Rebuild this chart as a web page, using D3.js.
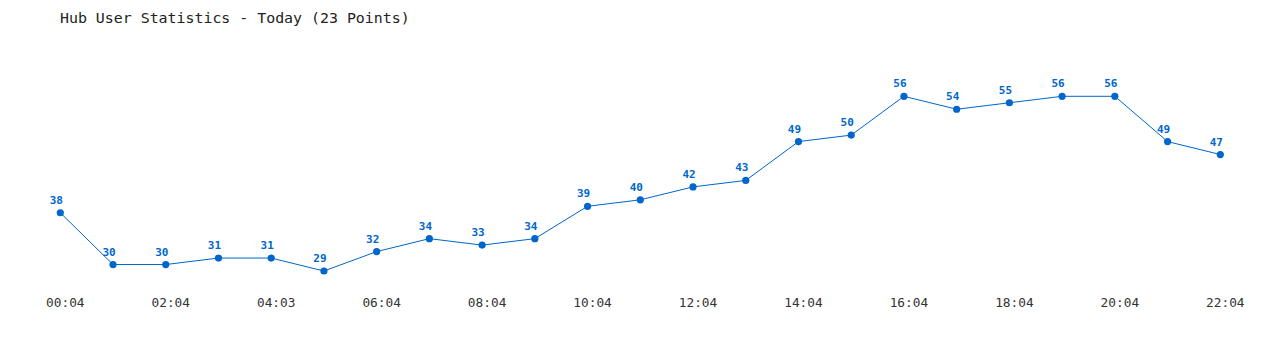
<!DOCTYPE html>
<html><head><meta charset="utf-8">
<script src="https://cdn.jsdelivr.net/npm/d3@7"></script>
<style>body{margin:0;background:#fff}svg{display:block}</style>
</head><body>
<svg id="c" width="1280" height="350"></svg>
<script>
const title = "Hub User Statistics - Today (23 Points)";
const values = [38,30,30,31,31,29,32,34,33,34,39,40,42,43,49,50,56,54,55,56,56,49,47];
const tickLabels = ["00:04","02:04","04:03","06:04","08:04","10:04","12:04","14:04","16:04","18:04","20:04","22:04"];
const tickIndex = [0,2,4,6,8,10,12,14,16,18,20,22];

const svg = d3.select("#c");
const color = "#0066cc";
const font = "'DejaVu Sans Mono', 'Liberation Mono', monospace";

const x = d3.scaleLinear().domain([0, values.length-1]).range([60.3, 1220.3]);
const y = d3.scaleLinear().domain(d3.extent(values)).range([271, 96.3]);

svg.append("text").attr("x", 60).attr("y", 23)
  .attr("font-family", font).attr("font-size", 14.9).attr("fill", "#222")
  .text(title);

const line = d3.line().x((d,i)=>x(i)).y(d=>y(d));
svg.append("path").datum(values).attr("d", line)
  .attr("fill","none").attr("stroke",color).attr("stroke-width",1);

svg.selectAll("circle.pt").data(values).join("circle")
  .attr("class","pt").attr("cx",(d,i)=>x(i)).attr("cy",d=>y(d)).attr("r",3.6).attr("fill",color);

svg.selectAll("text.val").data(values).join("text")
  .attr("class","val").attr("x",(d,i)=>x(i)-4).attr("y",d=>y(d)-9)
  .attr("text-anchor","middle").attr("font-family",font).attr("font-weight","bold")
  .attr("font-size",11).attr("fill",color).text(d=>d);

svg.selectAll("text.tick").data(tickLabels).join("text")
  .attr("class","tick").attr("x",(d,i)=>x(tickIndex[i])+5).attr("y",307)
  .attr("text-anchor","middle").attr("font-family",font)
  .attr("font-size",12.8).attr("fill","#333").text(d=>d);
</script>
</body></html>
